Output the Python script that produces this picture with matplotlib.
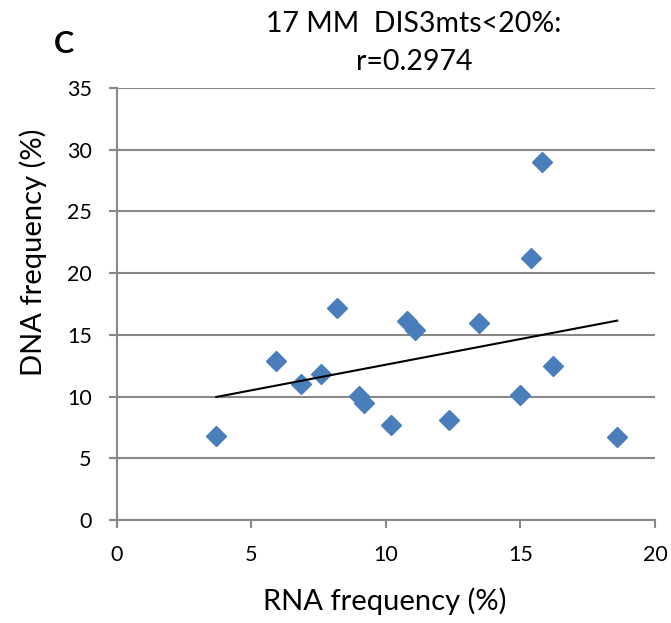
import numpy as np
import matplotlib.pyplot as plt

plt.rcParams['font.family'] = ['Lato', 'DejaVu Sans']

# RNA vs DNA frequency (%)
rna = [3.7, 5.9, 6.85, 7.6, 8.2, 9.0, 9.2, 10.2, 10.8, 11.1, 12.35, 13.45, 15.0, 15.4, 15.8, 16.2, 18.6]
dna = [6.8, 12.9, 11.0, 11.8, 17.2, 10.05, 9.45, 7.7, 16.15, 15.4, 8.1, 16.0, 10.1, 21.2, 29.0, 12.5, 6.7]
xticks = [0, 5, 10, 15, 20]
yticks = [0, 5, 10, 15, 20, 25, 30, 35]

x = np.array(rna)
y = np.array(dna)
m, c = np.polyfit(x, y, 1)
xl = np.array([x.min(), x.max()])

fig = plt.figure(figsize=(6.71, 6.23), dpi=100)
ax = fig.add_axes([0.174, 0.165, 0.802, 0.694])

ax.grid(axis='y', color='#888888', lw=1.5)
ax.set_axisbelow(True)
ax.plot(x, y, 'D', color='#4a7ebb', markersize=10, ls='none', zorder=3)
ax.plot(xl, m * xl + c, color='black', lw=1.5, zorder=4)

ax.set_xlim(0, 20)
ax.set_ylim(0, 35)
ax.set_xticks(xticks)
ax.set_yticks(yticks)
for s in ['top', 'right']:
    ax.spines[s].set_visible(False)
for s in ['left', 'bottom']:
    ax.spines[s].set_color('#888888')
    ax.spines[s].set_linewidth(1.5)
ax.tick_params(color='#888888', width=1.5, length=6, labelsize=15.5, pad=12)

ax.set_xlabel('RNA frequency (%)', fontsize=21, va='baseline')
ax.xaxis.set_label_coords(0.498, -0.208)
ax.set_ylabel('DNA frequency (%)', fontsize=21)
ax.yaxis.label.set_va('center')
ax.yaxis.set_label_coords(-0.156, 0.62)

# two-line title, placed like the original
fig.text(414 / 671, 1 - 32 / 623, '17 MM  DIS3mts<20%:', fontsize=20.5, ha='center', va='baseline')
fig.text(414 / 671, 1 - 70 / 623, 'r=0.2974', fontsize=20.5, ha='center', va='baseline')
fig.text(0.081, 1 - 53 / 623, 'C', fontsize=22, fontweight='bold', ha='left', va='baseline')

fig.savefig('out.png', dpi=100)
